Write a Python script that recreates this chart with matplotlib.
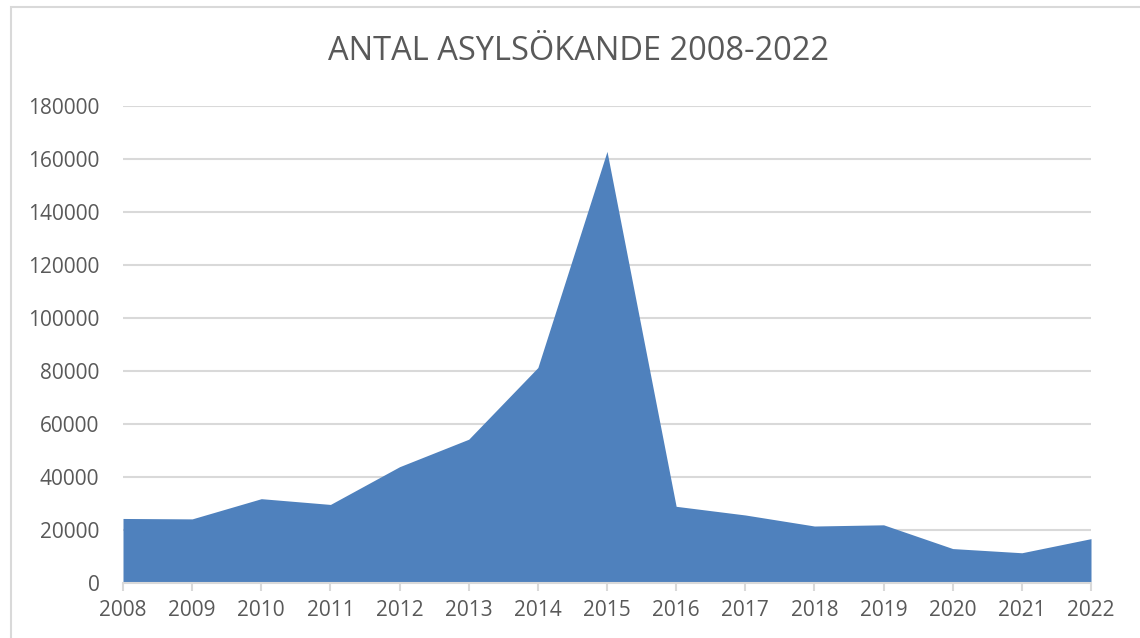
import matplotlib
matplotlib.use("Agg")
import matplotlib.pyplot as plt
from matplotlib.patches import Rectangle

# Antal asylsökande per år
years = [2008, 2009, 2010, 2011, 2012, 2013, 2014, 2015,
         2016, 2017, 2018, 2019, 2020, 2021, 2022]
asylum_seekers = [24353, 24194, 31819, 29648, 43887, 54259, 81301, 162877,
                  28939, 25666, 21502, 21958, 12991, 11412, 16738]
y_ticks = [0, 20000, 40000, 60000, 80000, 100000, 120000, 140000, 160000, 180000]

text_gray = "#595959"
grid_gray = "#D9D9D9"
fill_blue = "#4F81BD"

plt.rcParams['font.family'] = ['Open Sans', 'DejaVu Sans']

fig = plt.figure(figsize=(11.4, 6.38), dpi=100)
ax = fig.add_axes([123 / 1140, 1 - 583 / 638, (1091 - 123) / 1140, (583 - 106) / 638])

# ram runt diagrammet
fig.patches.append(Rectangle((11 / 1140, -0.05), 1.2, 1 - 7 / 638 + 0.05,
                             transform=fig.transFigure, fill=False,
                             edgecolor=grid_gray, linewidth=1.5))

ax.fill_between(years, asylum_seekers, 0, color=fill_blue, linewidth=0, zorder=2)

ax.set_xlim(years[0], years[-1])
ax.set_ylim(0, 180000)
ax.set_yticks(y_ticks)
ax.set_yticklabels([str(v) for v in y_ticks])
ax.set_xticks(years)
ax.set_xticklabels([str(y) for y in years])

ax.grid(axis='y', color=grid_gray, linewidth=1.5, zorder=0)
ax.set_axisbelow(True)
for side in ['top', 'right', 'left']:
    ax.spines[side].set_visible(False)
ax.spines['bottom'].set_color(grid_gray)
ax.spines['bottom'].set_linewidth(1.5)
ax.spines['bottom'].set_zorder(3)

ax.tick_params(axis='y', length=0, pad=17, labelsize=15, labelcolor=text_gray)
ax.tick_params(axis='x', length=6, width=1.5, color=grid_gray, pad=6,
               labelsize=15, labelcolor=text_gray)

fig.text(579 / 1140, 1 - 51 / 638, "ANTAL ASYLSÖKANDE 2008-2022",
         ha='center', va='center', fontsize=23.5, color=text_gray)

fig.savefig("out.png", dpi=100)
